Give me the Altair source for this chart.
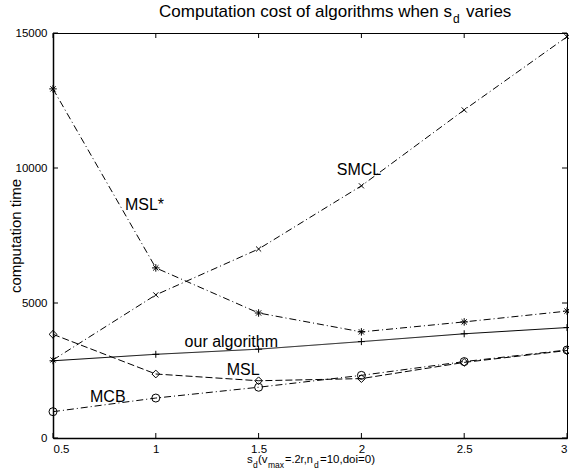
import altair as alt
import pandas as pd

# ---- data ----
x_vals = [0.5, 1.0, 1.5, 2.0, 2.5, 3.0]
series_names = ["our algorithm", "SMCL", "MSL*", "MSL", "MCB"]
our_algorithm = [2860, 3100, 3290, 3570, 3860, 4090]
smcl = [2890, 5300, 7000, 9340, 12150, 14860]
msl_star = [12930, 6300, 4630, 3930, 4300, 4700]
msl = [3840, 2370, 2120, 2200, 2800, 3240]
mcb = [975, 1480, 1880, 2320, 2830, 3260]

label_texts = ["MSL*", "SMCL", "our algorithm", "MSL", "MCB"]
label_x = [0.85, 1.88, 1.14, 1.345, 0.68]
label_y = [8630, 9930, 3560, 2520, 1520]

x_ticks = [0.5, 1.0, 1.5, 2.0, 2.5, 3.0]
y_ticks = [0, 5000, 10000, 15000]

series_values = [our_algorithm, smcl, msl_star, msl, mcb]
rows = []
for name, vals in zip(series_names, series_values):
    for xv, yv in zip(x_vals, vals):
        rows.append({"series": name, "x": xv, "y": yv})
df = pd.DataFrame(rows)
labels_df = pd.DataFrame({"text": label_texts, "x": label_x, "y": label_y})

W, H = 514, 405
FONT = "Liberation Sans"

xscale = alt.Scale(domain=[0.5, 3], nice=False, zero=False)
yscale = alt.Scale(domain=[0, 15000], nice=False)

dash_scale = alt.Scale(domain=series_names,
                       range=[[1, 0], [7, 3, 1, 3], [7, 3, 1, 3], [7, 3], [7, 3, 1, 3]])
PLUS = "M-1,0L1,0M0,-1L0,1"
XS = "M-0.7,-0.7L0.7,0.7M-0.7,0.7L0.7,-0.7"
AST = PLUS + XS
shape_scale = alt.Scale(domain=series_names, range=[PLUS, XS, AST, "diamond", "circle"])
size_scale = alt.Scale(domain=series_names, range=[49, 64, 49, 50, 45])

base = alt.Chart(df)

lines = base.mark_line(color="black", strokeWidth=1).encode(
    x=alt.X("x:Q", scale=xscale,
            axis=alt.Axis(values=x_ticks, format="~g", title=None, tickSize=0,
                          labelPadding=5, grid=False, domainWidth=1.5,
                          domainColor="black", labelFontSize=11.5, labelFont=FONT,
                          labelColor="black")),
    y=alt.Y("y:Q", scale=yscale,
            axis=alt.Axis(values=y_ticks, format="d", title="computation time",
                          tickSize=0, labelPadding=6, grid=False, domainWidth=1.5,
                          domainColor="black", labelFontSize=11.5, labelFont=FONT,
                          labelColor="black", titleFont=FONT, titleFontSize=15,
                          titleFontWeight="normal", titleColor="black",
                          titleX=-33, titleY=H / 2, titleAngle=270,
                          titleAlign="center", titleBaseline="alphabetic")),
    strokeDash=alt.StrokeDash("series:N", scale=dash_scale, legend=None),
    detail="series:N",
)

points = base.mark_point(filled=False, color="black", strokeWidth=1, opacity=1).encode(
    x=alt.X("x:Q", scale=xscale),
    y=alt.Y("y:Q", scale=yscale),
    shape=alt.Shape("series:N", scale=shape_scale, legend=None),
    size=alt.Size("series:N", scale=size_scale, legend=None),
)

labels = alt.Chart(labels_df).mark_text(
    align="left", baseline="middle", font=FONT, fontSize=16, color="black"
).encode(
    x=alt.X("x:Q", scale=xscale),
    y=alt.Y("y:Q", scale=yscale),
    text="text:N",
)

# inward ticks on all four sides
xt_df = pd.DataFrame({"x": x_ticks})
yt_df = pd.DataFrame({"y": y_ticks})
xt_bottom = alt.Chart(xt_df).mark_rule(color="black", strokeWidth=1).encode(
    x=alt.X("x:Q", scale=xscale), y=alt.value(H), y2=alt.value(H - 5))
xt_top = alt.Chart(xt_df).mark_rule(color="black", strokeWidth=1).encode(
    x=alt.X("x:Q", scale=xscale), y=alt.value(0), y2=alt.value(5))
yt_left = alt.Chart(yt_df).mark_rule(color="black", strokeWidth=1).encode(
    y=alt.Y("y:Q", scale=yscale), x=alt.value(0), x2=alt.value(5))
yt_right = alt.Chart(yt_df).mark_rule(color="black", strokeWidth=1).encode(
    y=alt.Y("y:Q", scale=yscale), x=alt.value(W), x2=alt.value(W - 5))

one = alt.Data(values=[{}])


def txt(s, x, y, size, align="left"):
    return alt.Chart(one).mark_text(
        text=s, align=align, baseline="alphabetic", font=FONT, fontSize=size,
        color="black"
    ).encode(x=alt.value(x), y=alt.value(y))


title_parts = [
    txt("Computation cost of algorithms when s", 399, -16, 17, "right"),
    txt("d", 400, -10, 12),
    txt("varies", 413, -16, 17),
]

xtitle_parts = [
    txt("s", 194, 430, 11.5),
    txt("d", 200, 435, 8.5),
    txt("(v", 205, 430, 11.5),
    txt("max", 215, 435, 8.5),
    txt("=.2r,n", 232, 430, 11),
    txt("d", 261, 435, 8.5),
    txt("=10,doi=0)", 267, 430, 11.5),
]

chart = alt.layer(
    lines, points, labels, xt_bottom, xt_top, yt_left, yt_right,
    *title_parts, *xtitle_parts
).properties(
    width=W, height=H,
    padding={"left": 53, "top": 33, "right": 2, "bottom": 35},
    autosize=alt.AutoSizeParams(type="none"),
    background="white",
).configure_view(stroke="black", strokeWidth=1)

chart.save("out.html", embed_options={"renderer": "svg", "actions": False})
